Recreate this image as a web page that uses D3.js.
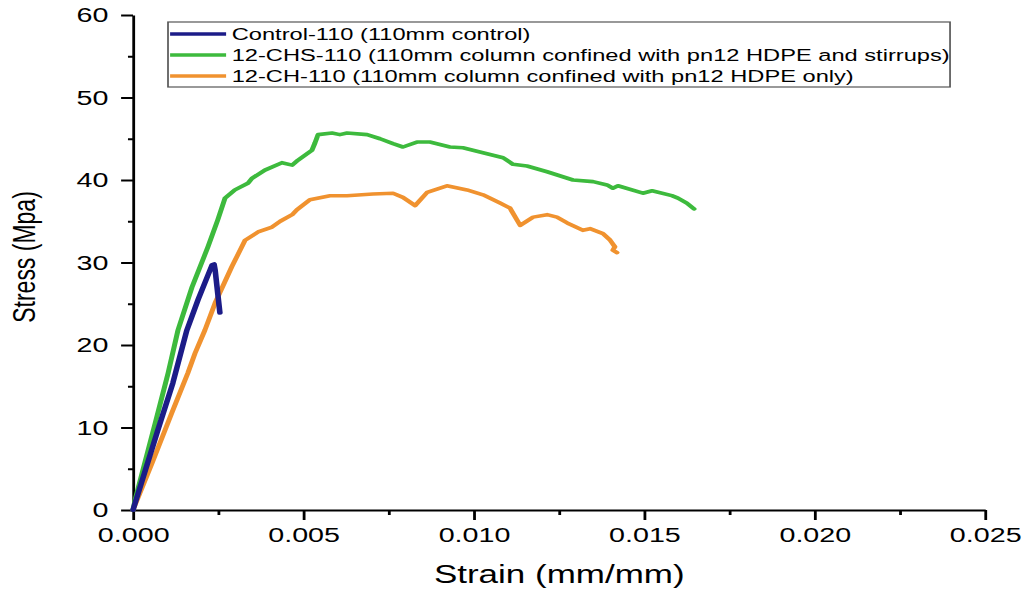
<!DOCTYPE html>
<html>
<head>
<meta charset="utf-8">
<script src="https://cdn.jsdelivr.net/npm/d3@7"></script>
<style>
  body { margin: 0; background: #fff; }
  text { font-family: "Liberation Sans", Arial, sans-serif; fill: #000; }
</style>
</head>
<body>
<div id="chart"></div>
<script>
// series (strain in mm/mm, stress in MPa)
const strainControl = [0, 0.00073, 0.00117, 0.00158, 0.00191, 0.00232, 0.00238, 0.00241, 0.00249, 0.00255];
const stressControl = [0, 9.7, 15.4, 21.8, 25.5, 29.7, 29.8, 29.1, 26.1, 23.9];

const strainCHS = [0, 0.00006, 0.00065, 0.00103, 0.00132, 0.00173, 0.0022, 0.00249, 0.0027, 0.00299,
  0.00337, 0.00349, 0.00387, 0.00437, 0.00467, 0.00484, 0.00525, 0.00534, 0.00543, 0.00584,
  0.00607, 0.00628, 0.00687, 0.00725, 0.00763, 0.00792, 0.00833, 0.00871, 0.0093, 0.00968,
  0.01018, 0.01086, 0.01115, 0.01156, 0.01215, 0.01291, 0.0135, 0.01391, 0.01408, 0.01423,
  0.01496, 0.01523, 0.01581, 0.01599, 0.01625, 0.01646];
const stressCHS = [0, 1.2, 10.5, 16.6, 21.8, 27.0, 31.9, 35.2, 37.8, 38.8,
  39.6, 40.2, 41.2, 42.1, 41.8, 42.4, 43.6, 44.5, 45.5, 45.7,
  45.5, 45.7, 45.5, 45.0, 44.4, 44.0, 44.6, 44.6, 44.0, 43.9,
  43.4, 42.7, 41.9, 41.7, 41.0, 40.0, 39.8, 39.4, 39.0, 39.3,
  38.4, 38.7, 38.1, 37.8, 37.2, 36.5];

const strainCH = [0, 0.00006, 0.00056, 0.00114, 0.00161, 0.00182, 0.00211, 0.00241, 0.0029, 0.00329,
  0.00367, 0.00408, 0.00432, 0.00467, 0.00481, 0.00519, 0.00578, 0.00628, 0.00704, 0.00763,
  0.00792, 0.00828, 0.00863, 0.00921, 0.0098, 0.01027, 0.01077, 0.01106, 0.01136, 0.01174,
  0.01215, 0.01244, 0.01274, 0.0132, 0.01341, 0.01379, 0.014, 0.01414, 0.01408, 0.0142];
const stressCH = [0, 0.6, 5.7, 11.8, 16.6, 19.0, 21.8, 25.1, 29.5, 32.7,
  33.7, 34.3, 35.0, 35.8, 36.4, 37.6, 38.1, 38.1, 38.3, 38.4,
  37.9, 36.9, 38.5, 39.3, 38.8, 38.2, 37.2, 36.6, 34.5, 35.5,
  35.8, 35.5, 34.8, 33.9, 34.1, 33.5, 32.7, 31.9, 31.5, 31.2];

const seriesNames = [
  'Control-110 (110mm control)',
  '12-CHS-110 (110mm column confined with pn12 HDPE and stirrups)',
  '12-CH-110 (110mm column confined with pn12 HDPE only)'
];
const seriesColors = ['#1c1c88', '#3dba3d', '#f0922f'];

const xTicks = [0, 0.005, 0.01, 0.015, 0.02, 0.025];
const xMinor = [0.0025, 0.0075, 0.0125, 0.0175, 0.0225];
const yTicks = [0, 10, 20, 30, 40, 50, 60];
const yMinor = [5, 15, 25, 35, 45, 55];

// the original picture is stretched sideways, so draw in a narrower box and stretch it
const stretch = 1.4;
const outerW = 1029;
const outerH = 594;
const width = outerW / stretch;
const height = outerH;
const margin = {left: 95, right: width - 703.6, top: 15, bottom: height - 510};

const svg = d3.select('#chart')
  .append('svg')
  .attr('width', outerW)
  .attr('height', outerH)
  .attr('viewBox', '0 0 ' + width + ' ' + height)
  .attr('preserveAspectRatio', 'none');

const x = d3.scaleLinear().domain([0, 0.025]).range([margin.left, width - margin.right]);
const y = d3.scaleLinear().domain([0, 60]).range([height - margin.bottom, margin.top]);

// axes
const xAxis = svg.append('g')
  .attr('transform', 'translate(0,' + y(0) + ')')
  .call(d3.axisBottom(x).tickValues(xTicks).tickFormat(d3.format('.3f'))
    .tickSize(10).tickSizeOuter(0).tickPadding(7));
xAxis.selectAll('text').style('font-size', '20.5px');

svg.append('g')
  .attr('transform', 'translate(0,' + y(0) + ')')
  .call(d3.axisBottom(x).tickValues(xMinor).tickFormat('').tickSize(5).tickSizeOuter(0))
  .select('.domain').remove();

const yAxis = svg.append('g')
  .attr('transform', 'translate(' + x(0) + ',0)')
  .call(d3.axisLeft(y).tickValues(yTicks).tickSize(8.5).tickSizeOuter(0).tickPadding(9));
yAxis.selectAll('text').style('font-size', '20.5px');

svg.append('g')
  .attr('transform', 'translate(' + x(0) + ',0)')
  .call(d3.axisLeft(y).tickValues(yMinor).tickFormat('').tickSize(3.6).tickSizeOuter(0))
  .select('.domain').remove();

svg.selectAll('.domain').attr('stroke', '#000').attr('stroke-width', 2);
svg.selectAll('.tick line').attr('stroke', '#000').attr('stroke-width', 2);

// axis titles
svg.append('text')
  .attr('x', 399.5)
  .attr('y', 583)
  .attr('text-anchor', 'middle')
  .style('font-size', '25px')
  .text('Strain (mm/mm)');

svg.append('text')
  .attr('transform', 'translate(25,257) rotate(-90)')
  .attr('text-anchor', 'middle')
  .style('font-size', '23px')
  .text('Stress (Mpa)');

// curves
const series = [
  {xs: strainControl, ys: stressControl},
  {xs: strainCHS, ys: stressCHS},
  {xs: strainCH, ys: stressCH}
];

const line = d3.line()
  .x(function(d) { return x(d[0]); })
  .y(function(d) { return y(d[1]); });

// draw order: orange under green, blue on top
[2, 1, 0].forEach(function(i) {
  const pts = series[i].xs.map(function(v, k) { return [v, series[i].ys[k]]; });
  svg.append('path')
    .datum(pts)
    .attr('fill', 'none')
    .attr('stroke', seriesColors[i])
    .attr('stroke-width', i === 0 ? 4 : 3.6)
    .attr('stroke-linejoin', 'round')
    .attr('stroke-linecap', 'round')
    .attr('d', line);
});

// legend
const legend = svg.append('g');
legend.append('rect')
  .attr('x', 120)
  .attr('y', 22)
  .attr('width', 558.6)
  .attr('height', 65)
  .attr('fill', '#fff')
  .attr('stroke', '#555')
  .attr('stroke-width', 1.2);

const rows = legend.selectAll('g.row')
  .data(seriesNames)
  .enter().append('g')
  .attr('class', 'row')
  .attr('transform', function(d, i) { return 'translate(0,' + (34 + i * 21) + ')'; });

rows.append('line')
  .attr('x1', 121.5)
  .attr('x2', 161.5)
  .attr('stroke', function(d, i) { return seriesColors[i]; })
  .attr('stroke-width', 3.5);

rows.append('text')
  .attr('x', 165.5)
  .attr('dy', '0.35em')
  .style('font-size', '16.9px')
  .text(function(d) { return d; });
</script>
</body>
</html>
